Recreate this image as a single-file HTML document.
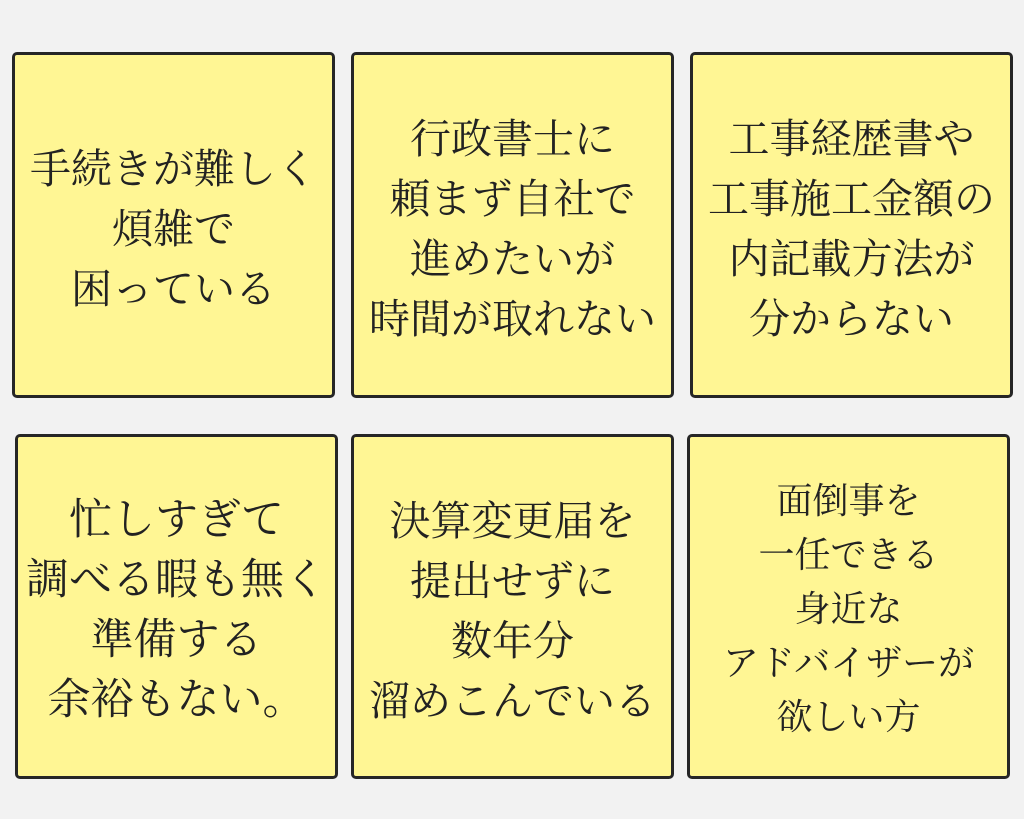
<!DOCTYPE html>
<html><head><meta charset="utf-8"><style>
body{margin:0;width:1024px;height:819px;background:#f2f2f2;position:relative;overflow:hidden;}
.b{position:absolute;box-sizing:border-box;border:3px solid #262626;border-radius:5px;background:#fff694;display:flex;align-items:center;justify-content:center;text-align:center;font-family:"Liberation Serif","Noto Serif CJK SC",serif;color:#222;font-size:41px;line-height:60px;white-space:nowrap;padding-top:8px;}
</style></head><body>
<div class="b" style="left:12px;top:52px;width:323px;height:346px;">手続きが難しく<br>煩雑で<br>困っている</div>
<div class="b" style="left:351px;top:52px;width:323px;height:346px;">行政書士に<br>頼まず自社で<br>進めたいが<br>時間が取れない</div>
<div class="b" style="left:690px;top:52px;width:323px;height:346px;">工事経歴書や<br>工事施工金額の<br>内記載方法が<br>分からない</div>
<div class="b" style="left:15px;top:434px;width:323px;height:345px;font-size:43px;">忙しすぎて<br>調べる暇も無く<br>準備する<br>余裕もない。</div>
<div class="b" style="left:351px;top:434px;width:323px;height:345px;">決算変更届を<br>提出せずに<br>数年分<br>溜めこんでいる</div>
<div class="b" style="left:687px;top:434px;width:323px;height:345px;font-size:36px;line-height:54px;padding-top:4px;">面倒事を<br>一任できる<br>身近な<br>アドバイザーが<br>欲しい方</div>
</body></html>
